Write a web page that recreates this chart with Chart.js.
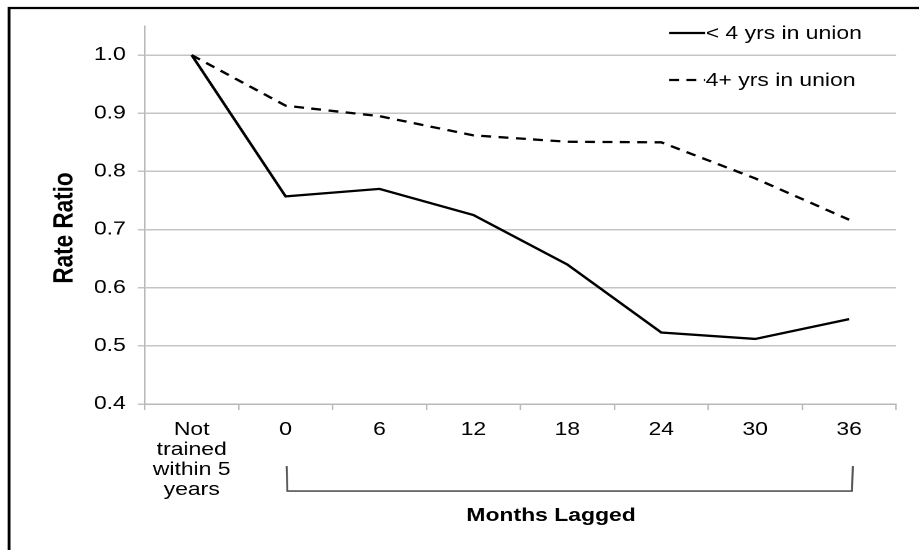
<!DOCTYPE html>
<html>
<head>
<meta charset="utf-8">
<script src="https://cdn.jsdelivr.net/npm/chart.js@4/dist/chart.umd.min.js"></script>
<style>
  body { margin: 0; background: #fff; }
  #wrap { position: relative; width: 919px; height: 550px; overflow: hidden; }
  /* the reference picture is stretched sideways, so the canvas is too */
  #chartRatio { transform: scaleX(1.24); transform-origin: 0 0; }
</style>
</head>
<body>
<div id="wrap"><canvas id="chartRatio" width="741" height="550"></canvas></div>
<script>
/* 数据 */
const categories = [['Not', 'trained', 'within 5', 'years'], '0', '6', '12', '18', '24', '30', '36'];
const shortUnion = [1.0, 0.757, 0.770, 0.725, 0.640, 0.523, 0.512, 0.546];
const longUnion = [1.0, 0.913, 0.895, 0.862, 0.851, 0.850, 0.788, 0.717];
const yTicks = [0.4, 0.5, 0.6, 0.7, 0.8, 0.9, 1.0];
const seriesNames = ['< 4 yrs in union', '4+ yrs in union'];
const yTitle = 'Rate Ratio';
const bracketLabel = 'Months Lagged';

const FONT = "'Liberation Sans', Arial, sans-serif";

/* 外框 + 轴标题 + 图例 + 下方括号 */
const extrasPlugin = {
  id: 'extras',
  afterDraw(chart) {
    const ctx = chart.ctx;
    const area = chart.chartArea;
    const x = chart.scales.x;
    ctx.save();

    // frame (top and left edges visible)
    ctx.strokeStyle = '#000';
    ctx.lineWidth = 2.2;
    ctx.beginPath();
    ctx.moveTo(7.3, 560);
    ctx.lineTo(7.3, 8);
    ctx.lineTo(760, 8);
    ctx.stroke();

    // y axis title
    ctx.save();
    ctx.translate(area.left - 64.5, (area.top + area.bottom) / 2 + 13);
    ctx.rotate(-Math.PI / 2);
    ctx.fillStyle = '#000';
    ctx.font = 'bold 22.5px ' + FONT;
    ctx.textAlign = 'center';
    ctx.textBaseline = 'middle';
    ctx.fillText(yTitle, 0, 0);
    ctx.restore();

    // legend
    const lx = area.right - 183;
    const rows = [area.top + 7, area.top + 54];
    chart.data.datasets.forEach(function (ds, i) {
      ctx.strokeStyle = ds.borderColor;
      ctx.lineWidth = ds.borderWidth;
      ctx.setLineDash(ds.borderDash || []);
      ctx.beginPath();
      ctx.moveTo(lx, rows[i]);
      ctx.lineTo(lx + 29, rows[i]);
      ctx.stroke();
      ctx.setLineDash([]);
      ctx.fillStyle = '#000';
      ctx.font = '18.5px ' + FONT;
      ctx.textBaseline = 'middle';
      ctx.textAlign = 'left';
      ctx.fillText(ds.label, lx + 29.5, rows[i] + 1);
    });

    // bracket under the lagged months
    const x0 = x.getPixelForValue(1) + 0.8;
    const x1 = x.getPixelForValue(categories.length - 1) + 3;
    const yTop = area.bottom + 62;
    const yBot = area.bottom + 87;
    ctx.strokeStyle = '#555';
    ctx.lineWidth = 1.6;
    ctx.beginPath();
    ctx.moveTo(x0, yTop);
    ctx.lineTo(x0 + 0.6, yBot);
    ctx.lineTo(x1 - 0.6, yBot);
    ctx.lineTo(x1, yTop);
    ctx.stroke();

    ctx.fillStyle = '#000';
    ctx.font = 'bold 18.5px ' + FONT;
    ctx.textAlign = 'center';
    ctx.textBaseline = 'middle';
    ctx.fillText(bracketLabel, (x0 + x1) / 2 - 15, area.bottom + 112);
    ctx.restore();
  },
};

const chart_ctx = document.getElementById('chartRatio');
const chart = new Chart(chart_ctx, {
  type: 'line',
  data: {
    labels: categories,
    datasets: [
      {
        label: seriesNames[0],
        data: shortUnion,
        fill: false,
        borderColor: '#000',
        borderWidth: 2.3,
        pointRadius: 0,
        tension: 0,
      },
      {
        label: seriesNames[1],
        data: longUnion,
        fill: false,
        borderColor: '#000',
        borderWidth: 2.3,
        borderDash: [8, 6],
        pointRadius: 0,
        tension: 0,
      },
    ],
  },
  options: {
    responsive: false,
    animation: false,
    devicePixelRatio: 2,
    layout: {
      padding: { left: 66, right: 18.4, top: 26, bottom: 40 },
    },
    plugins: {
      legend: { display: false },
      tooltip: { enabled: false },
    },
    scales: {
      x: {
        offset: true,
        grid: {
          offset: true,
          drawOnChartArea: false,
          tickLength: 6,
          color: '#b8b8b8',
          lineWidth: 1.2,
        },
        border: { color: '#b8b8b8', width: 1.5 },
        ticks: {
          color: '#000',
          padding: 10,
          maxRotation: 0,
          autoSkip: false,
          font: { family: FONT, size: 18.5, lineHeight: 1.08 },
        },
      },
      y: {
        min: 0.4,
        max: 1.05,
        afterBuildTicks: function (axis) {
          axis.ticks = yTicks.map(function (v) { return { value: v }; });
        },
        grid: {
          color: '#c4c4c4',
          lineWidth: 1.5,
          tickLength: 5.6,
        },
        border: { color: '#b8b8b8', width: 1.3 },
        ticks: {
          color: '#000',
          padding: 9.7,
          font: { family: FONT, size: 18.5 },
          callback: function (v) { return Number(v).toFixed(1); },
        },
      },
    },
  },
  plugins: [extrasPlugin],
});
</script>
</body>
</html>
